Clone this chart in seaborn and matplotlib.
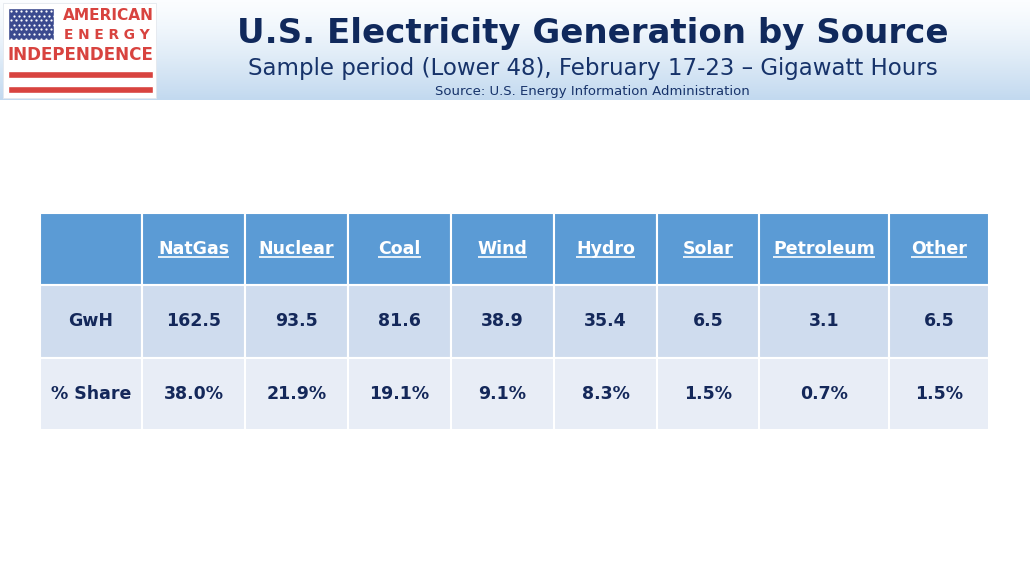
import numpy as np
import pandas as pd
import seaborn as sns
import matplotlib.pyplot as plt
from matplotlib.patches import Rectangle
from matplotlib.colors import LinearSegmentedColormap

# Data
sources = ['NatGas', 'Nuclear', 'Coal', 'Wind', 'Hydro', 'Solar', 'Petroleum', 'Other']
gwh = [162.5, 93.5, 81.6, 38.9, 35.4, 6.5, 3.1, 6.5]
share = [38.0, 21.9, 19.1, 9.1, 8.3, 1.5, 0.7, 1.5]
row_labels = ['GwH', '% Share']

title = 'U.S. Electricity Generation by Source'
subtitle = 'Sample period (Lower 48), February 17-23 \u2013 Gigawatt Hours'
source_note = 'Source: U.S. Energy Information Administration'

df = pd.DataFrame({'GwH': gwh, '% Share': share}, index=sources)

sns.set_theme(style='white')
plt.rcParams['font.family'] = ['DejaVu Sans']

NAVY = '#10295c'
RED = '#d8433f'

fig = plt.figure(figsize=(10.3, 5.79), dpi=100)
ax = fig.add_axes([0, 0, 1, 1])
ax.axis('off')

# header band
grad = np.linspace(0, 1, 100)[:, None] ** 1.3
band = LinearSegmentedColormap.from_list('band', ['#fbfdff', '#c2d9ef'])
ax.imshow(grad, extent=[0, 1030, 100, 0], cmap=band, aspect='auto', zorder=0)
ax.set_xlim(0, 1030)
ax.set_ylim(579, 0)

# logo
ax.add_patch(Rectangle((3, 3), 153, 95, facecolor='white', edgecolor='#e4e8ee', lw=0.6, zorder=1))
ax.add_patch(Rectangle((8, 8), 46, 32, facecolor='#3b4a8f', zorder=2))
sx, sy = np.meshgrid(np.arange(11, 54, 5.0), np.arange(11, 40, 4.6))
sx[1::2] += 2.5
ax.scatter(sx.ravel(), sy.ravel(), s=2.6, color='white', zorder=3, linewidths=0)
for y0 in (71, 86):
    ax.add_patch(Rectangle((8, y0), 145, 7, facecolor=RED, zorder=2))


def fit_width(txt, target):
    fig.canvas.draw()
    w = txt.get_window_extent(fig.canvas.get_renderer()).width
    txt.set_fontsize(txt.get_fontsize() * target / w)


t = ax.text(108, 15, 'AMERICAN', color=RED, fontsize=12, weight='bold', ha='center', va='center', zorder=3)
fit_width(t, 91)
t = ax.text(107, 35, 'E N E R G Y', color=RED, fontsize=12, weight='bold', ha='center', va='center', zorder=3)
fit_width(t, 86)
t = ax.text(80, 55, 'INDEPENDENCE', color=RED, fontsize=12, weight='bold', ha='center', va='center', zorder=3)
fit_width(t, 146)

# titles
t = ax.text(593, 33, title, color=NAVY, fontsize=24, weight='bold', ha='center', va='center')
fit_width(t, 710)
t = ax.text(593, 69, subtitle, color='#17336a', fontsize=16, ha='center', va='center')
fit_width(t, 690)
t = ax.text(592, 91, source_note, color='#17336a', fontsize=9, ha='center', va='center')
fit_width(t, 315)

# table
cell_text = [[''] + sources,
             [row_labels[0]] + [f'{v:.1f}' for v in df['GwH']],
             [row_labels[1]] + [f'{v:.1f}%' for v in df['% Share']]]
col_w = np.array([102, 103, 103, 103, 103, 103, 102, 130, 100], dtype=float)
row_colors = ['#5b9bd5', '#cfdcee', '#e8edf6']
cell_colors = [[c] * len(col_w) for c in row_colors]

left, right, top, bottom = 40, 989, 213, 430
tbl = ax.table(cellText=cell_text, cellColours=cell_colors, colWidths=list(col_w / col_w.sum()),
               cellLoc='center',
               bbox=[left / 1030, 1 - bottom / 579, (right - left) / 1030, (bottom - top) / 579])
tbl.auto_set_font_size(False)
tbl.set_fontsize(12.5)
for (r, c), cell in tbl.get_celld().items():
    cell.set_edgecolor('white')
    cell.set_linewidth(1.5)
    cell.get_text().set_weight('bold')
    cell.get_text().set_color('white' if r == 0 else '#14285a')

# underline the header labels
fig.canvas.draw()
rend = fig.canvas.get_renderer()
inv = ax.transData.inverted()
for c in range(1, len(col_w)):
    bb = tbl[0, c].get_text().get_window_extent(rend)
    (x0, y0), (x1, _) = inv.transform([(bb.x0, bb.y0 + 1.5), (bb.x1, bb.y0 + 1.5)])
    ax.plot([x0, x1], [y0, y0], color='white', lw=1.2, solid_capstyle='butt', zorder=5)

ax.set_xlim(0, 1030)
ax.set_ylim(579, 0)
fig.savefig('out.png', dpi=100, facecolor='white')
